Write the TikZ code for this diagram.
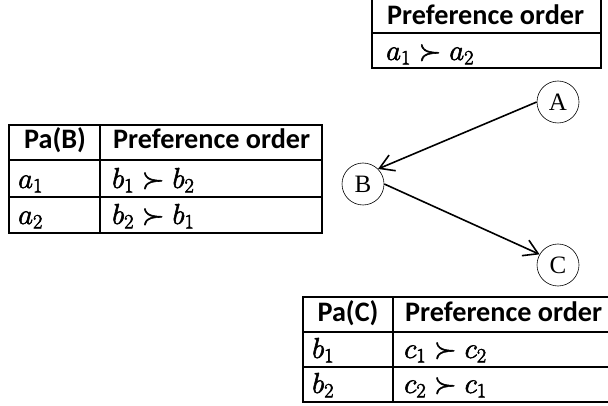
\RequirePackage{fix-cm}
\documentclass[tikz,border=0pt]{standalone}
\usepackage{fontspec}
\setmainfont{Carlito}
\newfontfamily\varfont{Liberation Serif}
\usetikzlibrary{arrows.meta}
\newlength\hdrw
\newlength\mthw
\AtBeginDocument{%
  \settowidth\hdrw{\fontsize{10}{12}\selectfont\bfseries Preference order}%
  \settowidth\mthw{\fontsize{10}{12}\selectfont$a_1 \succ a_2$}%
  \pgfmathsetmacro\hdrsize{10*197/\hdrw}%
  \pgfmathsetmacro\mthsize{10*95/\mthw}%
}
\newcommand\heavytext[1]{\special{pdf:code q 2 Tr 0.55 w}#1\special{pdf:code Q}}
\begin{document}
\begin{tikzpicture}[x=1pt,y=-1pt,
  tline/.style={line width=1.1pt},
  hdr/.style={font=\fontsize{\hdrsize}{\hdrsize}\selectfont\bfseries, anchor=base west, inner sep=0pt},
  hdrc/.style={font=\fontsize{\hdrsize}{\hdrsize}\selectfont\bfseries, anchor=base, inner sep=0pt},
  mth/.style={font=\fontsize{\mthsize}{\mthsize}\selectfont, anchor=base west, inner sep=0pt},
  var/.style={circle, draw, line width=0.6pt, minimum size=42pt, inner sep=0pt, font=\varfont\fontsize{25}{27}\selectfont},
  edgearrow/.style={line width=1.6pt, -{Straight Barb[length=14pt,width=17pt,line width=1.6pt]}}
]
\useasboundingbox (0,0) rectangle (608,406);
% top table (A)
\draw[tline] (372,-2) rectangle (601,68);
\draw[tline] (372,33) -- (601,33);
\node[hdr] (ta-h) at (387,25) {Preference order};
\node[mth] (ta-r1) at (386,60) {\heavytext{$a_1 \succ a_2$}};
% table B
\draw[tline] (9,125) rectangle (322,233);
\draw[tline] (9,160) -- (322,160);
\draw[tline] (9,197) -- (322,197);
\draw[tline] (100,125) -- (100,233);
\node[hdrc] (tb-h1) at (55,149) {Pa(B)};
\node[hdr] (tb-h2) at (113,149) {Preference order};
\node[mth] (tb-r1a) at (18,188) {\heavytext{$a_1$}};
\node[mth] (tb-r1b) at (112,188) {\heavytext{$b_1 \succ b_2$}};
\node[mth] (tb-r2a) at (18,224) {\heavytext{$a_2$}};
\node[mth] (tb-r2b) at (112,224) {\heavytext{$b_2 \succ b_1$}};
% table C
\draw[tline] (303,297) rectangle (620,402);
\draw[tline] (303,332) -- (620,332);
\draw[tline] (303,367) -- (620,367);
\draw[tline] (393,297) -- (393,402);
\node[hdrc] (tc-h1) at (348,321) {Pa(C)};
\node[hdr] (tc-h2) at (405,321) {Preference order};
\node[mth] (tc-r1a) at (312,358) {\heavytext{$b_1$}};
\node[mth] (tc-r1b) at (404,358) {\heavytext{$c_1 \succ c_2$}};
\node[mth] (tc-r2a) at (312,393) {\heavytext{$b_2$}};
\node[mth] (tc-r2b) at (404,393) {\heavytext{$c_2 \succ c_1$}};
% graph
\node[var] (A) at (558,102) {A};
\node[var] (B) at (363,184) {B};
\node[var] (C) at (558,265) {C};
\draw[edgearrow] (A.west) -- (B.45);
\draw[edgearrow] (B.east) -- (C.150);
\end{tikzpicture}
\end{document}
